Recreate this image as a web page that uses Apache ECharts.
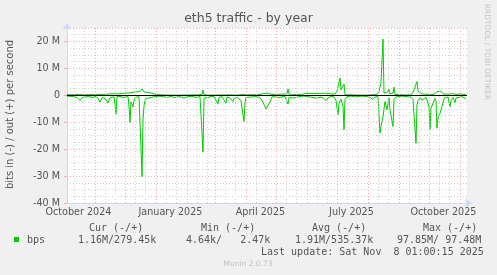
<!DOCTYPE html>
<html>
<head>
<meta charset="utf-8">
<script src="https://cdn.jsdelivr.net/npm/echarts@6/dist/echarts.min.js"></script>
<style>
html,body{margin:0;padding:0;background:#f0f0f0;}
#chart{width:497px;height:275px;}
</style>
</head>
<body>
<div id="chart"></div>
<script>
// ---- data (values in Mbit/s; day offsets from start of the 400-day window) ----
const startUTC = Date.UTC(2024, 9, 4, 1);
const DAY = 86400000;

const inDays = [0,5,10,13,15,18,22,26,29,31,33,35,37,39,40,41,43,45,47,48,49,50,53,56,58,61,62,63,64,65,66,67,68,70,72,73,74,75,76,77,78,79,81,84,88,92,96,100,104,108,111,114,117,121,125,129,133,135,136,137,139,141,144,147,149,151,152,155,157,159,160,163,165,166,167,170,172,174,175,177,178,179,181,185,189,193,196,197,199,201,203,205,208,210,212,215,218,220,221,222,225,228,231,234,237,240,243,248,251,254,257,259,261,264,267,269,271,272,274,276,277,278,280,284,288,292,296,300,303,306,308,311,312,313,314,316,318,320,322,323,324,326,327,328,329,331,335,340,344,346,347,349,350,351,353,355,357,359,361,362,363,364,366,368,369,370,371,373,375,377,379,381,383,384,386,388,389,392,395,397,399];
const inValues = [-0.3,-0.4,-0.8,-2.0,-0.9,-0.6,-0.5,-0.8,-0.4,-1.2,-2.5,-0.8,-0.6,-1.5,-0.8,-2.9,-0.8,-0.5,-0.6,-3.5,-7.0,-0.5,-0.4,-0.8,-0.4,-0.5,-4.0,-10.1,-2.5,-3.0,-4.3,-2.0,-0.8,-0.6,-0.5,-1.0,-20.0,-30.2,-8.8,-4.0,-2.0,-1.2,-1.0,-0.8,-0.5,-0.3,-0.5,-0.8,-0.4,-0.9,-0.5,-0.6,-1.0,-0.5,-0.4,-0.8,-0.5,-0.6,-21.1,-1.0,-0.5,-0.8,-0.4,-0.5,-1.0,-3.3,-0.8,-0.5,-1.2,-2.9,-0.6,-1.0,-1.5,-2.3,-1.2,-0.8,-0.5,-2.0,-4.8,-9.7,-3.0,-0.8,-0.4,-0.6,-0.5,-0.8,-2.5,-3.5,-5.0,-4.5,-2.5,-0.5,-0.6,-1.2,-0.8,-0.6,-0.4,-0.9,-3.3,-0.8,-1.0,-0.9,-0.6,-0.4,-0.3,-0.5,-0.6,-1.0,-0.9,-0.7,-1.2,-2.0,-1.0,-0.4,-0.6,-2.0,-7.2,-3.0,-1.5,-4.0,-12.8,-1.5,-0.5,-0.3,-0.6,-0.4,-0.3,-0.5,-0.8,-1.5,-0.6,-0.5,-1.0,-14.0,-11.6,-7.9,-2.3,-5.4,-1.0,-5.4,-7.5,-11.6,-1.5,-0.8,-0.6,-0.4,-0.3,-0.5,-0.7,-1.5,-7.2,-17.8,-3.5,-2.0,-0.8,-1.8,-1.7,-0.8,-1.0,-4.0,-12.6,-4.8,-4.2,-1.2,-2.0,-12.2,-8.5,-6.7,-4.2,-1.2,-1.0,-0.6,-4.4,-2.0,-0.8,-2.7,-1.0,-0.8,-0.5,-1.2,-1.3];

const outDays = [0,10,20,30,40,45,50,55,58,62,65,68,70,73,75,77,79,85,88,90,100,110,120,130,135,136,137,140,150,160,170,175,177,180,190,200,205,220,221,222,225,235,240,250,258,262,268,270,273,274,276,277,278,280,290,300,310,312,314,316,317,319,320,322,323,326,327,328,330,340,345,347,350,351,352,355,360,365,368,370,372,374,376,380,385,390,393,396,399];
const outValues = [0.2,0.3,0.2,0.3,0.4,0.6,0.5,0.6,0.8,0.9,1.0,1.3,1.1,1.4,2.4,1.2,0.8,0.8,0.3,0.1,0.1,0.1,0.1,0.2,0.3,2.0,0.3,0.1,0.1,0.2,0.1,0.3,0.8,0.2,0.2,0.8,0.3,0.5,2.4,0.5,0.2,0.4,0.7,0.6,0.8,0.6,0.4,1.5,6.4,2.0,1.5,4.2,0.3,0.1,0.1,0.1,0.3,1.4,4.8,20.9,0.8,0.6,1.0,2.3,0.5,0.8,3.0,0.3,0.1,0.1,0.5,2.0,5.1,1.5,0.8,0.5,0.4,0.2,0.6,1.4,2.0,1.5,0.5,0.4,0.6,0.3,0.5,0.4,0.2];

const yMin = -40, yMax = 25, yStep = 10;
const xLabelDates = [[2024,9,15],[2025,0,15],[2025,3,15],[2025,6,15],[2025,9,15]];
const monthNames = ['January','February','March','April','May','June','July','August','September','October','November','December'];

const legendHeaders = ['Cur (-/+)','Min (-/+)','Avg (-/+)','Max (-/+)'];
const legendValues = ['1.16M/279.45k','4.64k/   2.47k','1.91M/535.37k','97.85M/ 97.48M'];
const seriesName = 'bps';
const lastUpdate = 'Last update: Sat Nov  8 01:00:15 2025';

// ---- build ----
const endUTC = startUTC + 400 * DAY;
const toTs = d => startUTC + d * DAY;
const inData = inDays.map((d, i) => [toTs(d), inValues[i]]);
const outData = outDays.map((d, i) => [toTs(d), outValues[i]]);

const majorLines = [], minorLines = [];
for (let y = 2024; y <= 2025; y++) {
  for (let m = 0; m < 12; m++) {
    [1, 11, 21].forEach(day => {
      const t = Date.UTC(y, m, day);
      if (t > startUTC && t < endUTC) {
        (day === 1 ? majorLines : minorLines).push({ xAxis: t });
      }
    });
  }
}
const xLabelValues = xLabelDates.map(a => Date.UTC(a[0], a[1], a[2], 12));

const FONT = 'DejaVu Sans';
const TXT = '#555555';

const chart = echarts.init(document.getElementById('chart'), null, { renderer: 'canvas' });
const hdrX = [89, 201, 312, 423];
const valX = [78, 186, 295, 397];
const graphics = [
  { type: 'text', style: { text: 'eth5 traffic - by year', x: 248.5, y: 19, align: 'center', verticalAlign: 'middle', font: '12.5px "DejaVu Sans"', fill: TXT } },
  { type: 'text', x: 10, y: 114.5, rotation: Math.PI / 2, style: { text: 'bits in (-) / out (+) per second', align: 'center', verticalAlign: 'middle', font: '10px "DejaVu Sans"', fill: TXT } },
  { type: 'text', x: 487, y: 52, rotation: -Math.PI / 2, style: { text: 'RRDTOOL / TOBI OETIKER', align: 'center', verticalAlign: 'middle', font: '7.5px "DejaVu Sans"', fill: '#c4c4c4' } },
  { type: 'rect', shape: { x: 14, y: 237, width: 5, height: 5 }, style: { fill: '#00cc00' } },
  { type: 'text', style: { text: seriesName, x: 27, y: 240, verticalAlign: 'middle', font: '10px "DejaVu Sans Mono"', fill: TXT } },
  { type: 'text', style: { text: lastUpdate, x: 261, y: 252, verticalAlign: 'middle', font: '10px "DejaVu Sans Mono"', fill: TXT } },
  { type: 'text', style: { text: 'Munin 2.0.73', x: 248, y: 264.5, align: 'center', verticalAlign: 'middle', font: '7.5px "DejaVu Sans"', fill: '#c0c0c0' } }
];
legendHeaders.forEach((t, i) => graphics.push({ type: 'text', style: { text: t, x: hdrX[i], y: 228, verticalAlign: 'middle', font: '10px "DejaVu Sans Mono"', fill: TXT } }));
legendValues.forEach((t, i) => graphics.push({ type: 'text', style: { text: t, x: valX[i], y: 240, verticalAlign: 'middle', font: '10px "DejaVu Sans Mono"', fill: TXT } }));

chart.setOption({
  animation: false,
  backgroundColor: '#f0f0f0',
  grid: { left: 67, right: 30, top: 28, bottom: 72, show: true, backgroundColor: '#ffffff', borderWidth: 0 },
  xAxis: {
    type: 'value', min: startUTC, max: endUTC,
    axisLine: { onZero: false, lineStyle: { color: '#CFD6F8', width: 1 }, symbol: ['none', 'arrow'], symbolSize: [7, 7], symbolOffset: [0, 5] },
    axisTick: { show: false },
    splitLine: { show: false },
    axisLabel: {
      customValues: xLabelValues, margin: 4, color: TXT, fontFamily: FONT, fontSize: 9.6,
      formatter: v => { const d = new Date(v); return monthNames[d.getUTCMonth()] + ' ' + d.getUTCFullYear(); }
    }
  },
  yAxis: {
    type: 'value', min: yMin, max: yMax, interval: yStep,
    axisLine: { show: true, lineStyle: { color: '#CFD6F8', width: 1 }, symbol: ['none', 'arrow'], symbolSize: [7, 7], symbolOffset: [0, 5] },
    axisTick: { show: true, length: 3, lineStyle: { color: '#ffaaaa' } },
    axisLabel: { margin: 7, color: TXT, fontFamily: FONT, fontSize: 9.6, showMaxLabel: false,
      formatter: v => v === 0 ? '0' : (v + ' M') },
    splitLine: { show: true, lineStyle: { color: '#f5aaaa', type: [1, 2], width: 1 } },
    minorTick: { show: false, splitNumber: 4 },
    minorSplitLine: { show: true, lineStyle: { color: '#cfcfcf', type: [1, 2], width: 1 } }
  },
  graphic: graphics,
  series: [
    { type: 'line', data: [], z: 1, silent: true,
      markLine: { silent: true, symbol: 'none', label: { show: false }, animation: false,
        lineStyle: { color: '#cfcfcf', type: [1, 2], width: 1 }, data: minorLines } },
    { type: 'line', data: [], z: 1, silent: true,
      markLine: { silent: true, symbol: 'none', label: { show: false }, animation: false,
        lineStyle: { color: '#f5aaaa', type: [1, 2], width: 1 }, data: majorLines } },
    { name: 'in', type: 'line', data: inData, z: 3, showSymbol: false, lineStyle: { color: '#00cc00', width: 1 } },
    { name: 'out', type: 'line', data: outData, z: 4, showSymbol: false, lineStyle: { color: '#00cc00', width: 1 },
      markLine: { silent: true, symbol: 'none', label: { show: false }, animation: false,
        lineStyle: { color: '#000000', type: 'solid', width: 1 }, data: [{ yAxis: 0 }] } }
  ]
});
</script>
</body>
</html>
